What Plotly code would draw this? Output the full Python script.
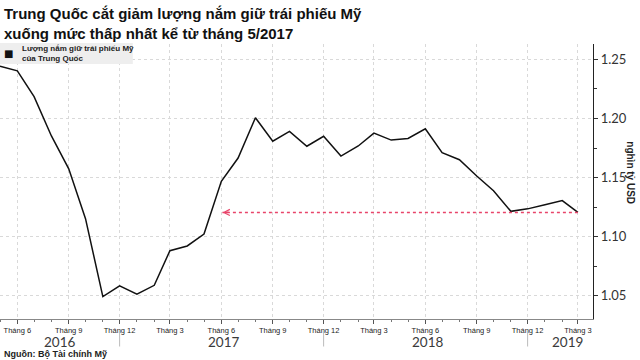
import plotly.graph_objects as go

# ---- data ----
months = [
    "2016-05-01", "2016-06-01", "2016-07-01", "2016-08-01", "2016-09-01", "2016-10-01",
    "2016-11-01", "2016-12-01", "2017-01-01", "2017-02-01", "2017-03-01", "2017-04-01",
    "2017-05-01", "2017-06-01", "2017-07-01", "2017-08-01", "2017-09-01", "2017-10-01",
    "2017-11-01", "2017-12-01", "2018-01-01", "2018-02-01", "2018-03-01", "2018-04-01",
    "2018-05-01", "2018-06-01", "2018-07-01", "2018-08-01", "2018-09-01", "2018-10-01",
    "2018-11-01", "2018-12-01", "2019-01-01", "2019-02-01", "2019-03-01",
]
holdings = [
    1.2443, 1.2403, 1.2184, 1.1852, 1.1574, 1.1152,
    1.0493, 1.0584, 1.0514, 1.0588, 1.0881, 1.0921,
    1.1022, 1.1468, 1.1665, 1.2006, 1.1807, 1.1891,
    1.1765, 1.1849, 1.1682, 1.1767, 1.1876, 1.1817,
    1.1831, 1.1912, 1.1710, 1.1651, 1.1513, 1.1389,
    1.1214, 1.1235, 1.1269, 1.1305, 1.1205,
]
tick_dates = ["2016-06-01", "2016-09-01", "2016-12-01", "2017-03-01", "2017-06-01",
              "2017-09-01", "2017-12-01", "2018-03-01", "2018-06-01", "2018-09-01",
              "2018-12-01", "2019-03-01"]
tick_labels = ["Tháng 6", "Tháng 9", "Tháng 12", "Tháng 3", "Tháng 6", "Tháng 9",
               "Tháng 12", "Tháng 3", "Tháng 6", "Tháng 9", "Tháng 12", "Tháng 3"]
year_labels = ["2016", "2017", "2018", "2019"]
year_label_dates = ["2016-08-15", "2017-06-05", "2018-06-05", "2019-02-10"]
year_sep_dates = ["2016-12-01", "2017-12-01", "2018-12-01"]
y_ticks = [1.05, 1.10, 1.15, 1.20, 1.25]

title_text = "Trung Quốc cắt giảm lượng nắm giữ trái phiếu Mỹ<br>xuống mức thấp nhất kể từ tháng 5/2017"
series_name = "Lượng nắm giữ trái phiếu Mỹ<br>của Trung Quốc"
source_text = "Nguồn: Bộ Tài chính Mỹ"
axis_title = "nghìn tỷ USD"
arrow_from = "2019-03-01"
arrow_to = "2017-06-03"
arrow_level = holdings[-1]

fig = go.Figure()
fig.add_trace(go.Scatter(
    x=months, y=holdings, mode="lines", name="Lượng nắm giữ trái phiếu Mỹ của Trung Quốc",
    line=dict(color="#111111", width=1.5), showlegend=False,
))

# pink dotted reference line with arrow
fig.add_shape(type="line", xref="x", yref="y", x0=arrow_from, x1=arrow_to,
              y0=arrow_level, y1=arrow_level,
              line=dict(color="#e8456a", width=1.5, dash="dot"))
fig.add_annotation(x=arrow_to, y=arrow_level, xref="x", yref="y",
                   ax=8, ay=0, axref="pixel", ayref="pixel", text="",
                   showarrow=True, arrowhead=5, arrowsize=1.0, arrowwidth=1.2,
                   arrowcolor="#e8456a")

# legend box
fig.add_shape(type="rect", xref="paper", yref="paper", x0=0, x1=0.224, y0=0.927, y1=1.004,
              line=dict(width=0), fillcolor="#eeeeee", layer="above")
fig.add_annotation(xref="paper", yref="paper", x=0.0145, y=0.965, text="■",
                   showarrow=False, font=dict(size=10, color="#111111", family="DejaVu Sans"),
                   xanchor="center", yanchor="middle")
fig.add_annotation(xref="paper", yref="paper", x=0.034, y=0.965, text="<b>" + series_name + "</b>",
                   showarrow=False, align="left", xanchor="left", yanchor="middle",
                   font=dict(size=8, color="#222222", family="Liberation Sans"))

# year labels and separators
for lab, d in zip(year_labels, year_label_dates):
    fig.add_annotation(xref="x", yref="paper", x=d, y=-0.082, text=lab, showarrow=False,
                       font=dict(size=13.5, color="#3a3a3a", family="Lato"),
                       xanchor="center", yanchor="middle", borderpad=0)
for d in year_sep_dates:
    fig.add_shape(type="line", xref="x", yref="paper", x0=d, x1=d, y0=-0.045, y1=-0.1,
                  line=dict(color="#bbbbbb", width=1))

# y-axis title
fig.add_annotation(xref="paper", yref="paper", x=1.064, y=0.53, text="<b>" + axis_title + "</b>",
                   showarrow=False, textangle=90, font=dict(size=10, color="#222222",
                                                            family="Liberation Sans"),
                   xanchor="center", yanchor="middle")

# title
fig.add_annotation(xref="paper", yref="paper", x=0.003, y=1.149, text="<b>" + title_text + "</b>",
                   showarrow=False, align="left", xanchor="left", yanchor="top",
                   font=dict(size=15, color="#111111", family="Liberation Sans"))

# source
fig.add_annotation(xref="paper", yref="paper", x=0.003, y=-0.127, text="<b>" + source_text + "</b>",
                   showarrow=False, xanchor="left", yanchor="middle",
                   font=dict(size=9, color="#222222", family="Liberation Sans"))

fig.update_layout(
    width=640, height=360,
    margin=dict(l=0, r=47, t=44, b=41),
    paper_bgcolor="white", plot_bgcolor="white",
    showlegend=False,
)
fig.update_xaxes(
    type="date", range=["2016-05-01", "2019-03-28"],
    tickvals=tick_dates, ticktext=tick_labels,
    tickfont=dict(size=7.5, color="#222222", family="Liberation Sans"),
    ticks="outside", ticklen=4, tickcolor="#555555",
    showline=True, linecolor="#888888", linewidth=1,
    showgrid=True, gridcolor="#d9d9d9", griddash="dot", gridwidth=1,
    minor=dict(dtick="M1", tick0="2016-05-01", ticks="outside", ticklen=2, tickcolor="#777777", showgrid=False),
    zeroline=False,
)
fig.update_yaxes(
    side="right", range=[1.0303, 1.263],
    tickvals=y_ticks, ticktext=[f"{v:.2f}" for v in y_ticks],
    tickfont=dict(size=13, color="#333333", family="Lato"),
    ticks="outside", ticklen=4, tickcolor="#333333",
    showline=True, linecolor="#222222", linewidth=1.2,
    showgrid=True, gridcolor="#d9d9d9", griddash="dot", gridwidth=1,
    minor=dict(dtick=0.025, tick0=1.025, ticks="outside", ticklen=3, tickcolor="#333333", showgrid=False),
    zeroline=False,
)

fig.write_html("out.html", config={"displayModeBar": False},
               post_script="document.body.style.margin='0';")
